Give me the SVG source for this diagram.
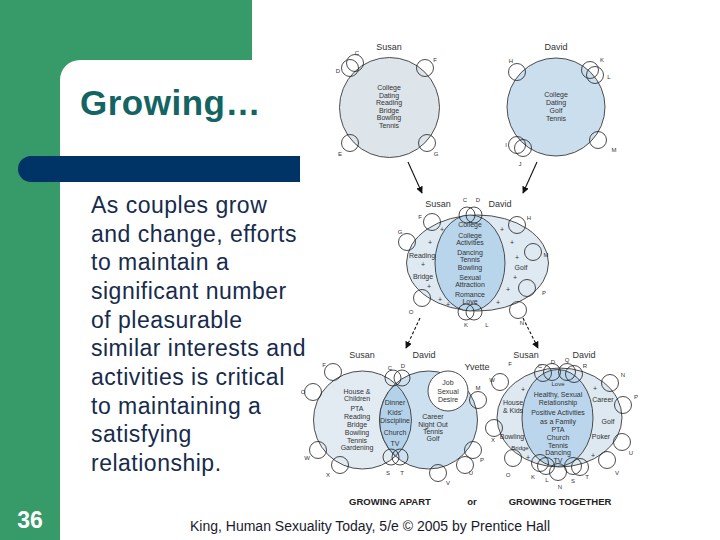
<svg xmlns="http://www.w3.org/2000/svg" width="720" height="540" viewBox="0 0 720 540">
<defs>
<style>
.big{stroke:#3a3a3a;stroke-width:0.9}
.sm{fill:none;stroke:#1e1e1e;stroke-width:0.8}
.t{font-family:"Liberation Sans",Arial,sans-serif;font-size:7px;fill:#333;text-anchor:middle}
.l{font-family:"Liberation Sans",Arial,sans-serif;font-size:6px;fill:#333;text-anchor:middle}
.n{font-family:"Liberation Sans",Arial,sans-serif;font-size:9px;fill:#333;text-anchor:middle}
.cap{font-family:"Liberation Sans",Arial,sans-serif;font-size:9.5px;font-weight:bold;fill:#222;text-anchor:middle}
.body{font-family:"Liberation Sans",Arial,sans-serif;font-size:23px;letter-spacing:0.5px;fill:#172b4d}
.arr{stroke:#111;stroke-width:1.1;fill:none}
</style>
<marker id="ah" viewBox="0 0 10 10" refX="9" refY="5" markerWidth="7" markerHeight="7" orient="auto" markerUnits="userSpaceOnUse">
<path d="M0,0 L10,5 L0,10 z" fill="#111"/>
</marker>
</defs>
<rect width="720" height="540" fill="#fff"/>
<g id="frame">
<path d="M0,0 H252 V60 H80 A20,20 0 0 0 60,80 V540 H0 Z" fill="#379a69"/>
<path d="M31,156 H300 V182 H31 A13,13 0 0 1 31,156 Z" fill="#003366"/>
<text x="80" y="115" font-family="Liberation Sans,Arial,sans-serif" font-size="35" font-weight="bold" letter-spacing="0.5" fill="#146464">Growing…</text>
<text x="30" y="528" font-family="Liberation Sans,Arial,sans-serif" font-size="23" font-weight="bold" fill="#fff" text-anchor="middle">36</text>
</g>
<g id="body-text">
<text class="body" x="91" y="213">As couples grow</text>
<text class="body" x="91" y="242">and change, efforts</text>
<text class="body" x="91" y="270">to maintain a</text>
<text class="body" x="91" y="299">significant number</text>
<text class="body" x="91" y="328">of pleasurable</text>
<text class="body" x="91" y="356">similar interests and</text>
<text class="body" x="91" y="385">activities is critical</text>
<text class="body" x="91" y="414">to maintaining a</text>
<text class="body" x="91" y="442">satisfying</text>
<text class="body" x="91" y="471">relationship.</text>
</g>
<g id="footer">
<text x="370" y="531" font-family="Liberation Sans,Arial,sans-serif" font-size="14" fill="#1a1a2e" text-anchor="middle">King, Human Sexuality Today, 5/e © 2005 by Prentice Hall</text>
</g>

<g id="susan-top">
<circle class="big" cx="389.5" cy="107.5" r="50" fill="#dde4ea"/>
<circle class="sm" cx="355" cy="63" r="8.5"/><circle class="sm" cx="350" cy="68" r="8.5"/>
<circle class="sm" cx="425" cy="68" r="8.5"/>
<circle class="sm" cx="350" cy="143" r="8.5"/>
<circle class="sm" cx="427" cy="143" r="8.5"/>
<text class="n" x="389" y="50">Susan</text>
<text class="l" x="357" y="55">C</text><text class="l" x="338" y="73">D</text>
<text class="l" x="435" y="62">F</text><text class="l" x="340" y="156">E</text><text class="l" x="436" y="156">G</text>
<text class="t" x="389" y="90">College</text>
<text class="t" x="389" y="98">Dating</text>
<text class="t" x="389" y="105">Reading</text>
<text class="t" x="389" y="113">Bridge</text>
<text class="t" x="389" y="120">Bowling</text>
<text class="t" x="389" y="128">Tennis</text>
</g>

<g id="david-top">
<circle class="big" cx="556" cy="107" r="49" fill="#cbdeee"/>
<circle class="sm" cx="517" cy="72" r="8.5"/>
<circle class="sm" cx="590" cy="70" r="8.5"/><circle class="sm" cx="595" cy="75" r="8.5"/>
<circle class="sm" cx="598" cy="140" r="8.5"/>
<circle class="sm" cx="517" cy="145" r="8.5"/><circle class="sm" cx="523" cy="148" r="8.5"/>
<text class="n" x="556" y="50">David</text>
<text class="l" x="511" y="63">H</text><text class="l" x="602" y="62">K</text><text class="l" x="609" y="79">L</text>
<text class="l" x="614" y="152">M</text><text class="l" x="506" y="147">I</text><text class="l" x="520" y="166">J</text>
<text class="t" x="556" y="97">College</text>
<text class="t" x="556" y="105">Dating</text>
<text class="t" x="556" y="113">Golf</text>
<text class="t" x="556" y="121">Tennis</text>
</g>

<g id="merged-middle">
<ellipse class="big" cx="477.5" cy="263" rx="71" ry="48" fill="#dfe9f2"/>
<ellipse class="big" cx="470" cy="263" rx="35" ry="48" fill="#b9d5eb"/>
<circle class="sm" cx="467" cy="215" r="8"/><circle class="sm" cx="474" cy="215" r="8"/>
<circle class="sm" cx="432" cy="222" r="8.5"/>
<circle class="sm" cx="407" cy="242" r="8.5"/>
<circle class="sm" cx="517" cy="225" r="8.5"/>
<circle class="sm" cx="533" cy="252" r="8.5"/>
<circle class="sm" cx="527" cy="288" r="8.5"/>
<circle class="sm" cx="518" cy="310" r="8.5"/>
<circle class="sm" cx="422" cy="298" r="8.5"/>
<circle class="sm" cx="466" cy="312" r="8"/><circle class="sm" cx="474" cy="312" r="8"/>
<text class="n" x="438" y="207">Susan</text><text class="n" x="500" y="207">David</text>
<text class="l" x="465" y="202">C</text><text class="l" x="478" y="202">D</text>
<text class="l" x="420" y="219">F</text><text class="l" x="400" y="234">G</text>
<text class="l" x="529" y="220">H</text><text class="l" x="546" y="257">M</text>
<text class="l" x="544" y="295">P</text><text class="l" x="522" y="325">N</text>
<text class="l" x="411" y="314">O</text><text class="l" x="466" y="327">K</text><text class="l" x="487" y="327">L</text>
<text class="t" x="470" y="227">College</text>
<text class="t" x="470" y="238">College</text>
<text class="t" x="470" y="245">Activities</text>
<text class="t" x="470" y="255">Dancing</text>
<text class="t" x="470" y="262">Tennis</text>
<text class="t" x="470" y="270">Bowling</text>
<text class="t" x="470" y="280">Sexual</text>
<text class="t" x="470" y="287">Attraction</text>
<text class="t" x="470" y="297">Romance</text>
<text class="t" x="470" y="304">Love</text>
<text class="t" x="422" y="258">Reading</text>
<text class="t" x="423" y="279">Bridge</text>
<text class="t" x="521" y="270">Golf</text>
<text class="t" x="442" y="232">+</text><text class="t" x="430" y="245">+</text><text class="t" x="423" y="267">+</text>
<text class="t" x="429" y="289">+</text><text class="t" x="440" y="302">+</text><text class="t" x="448" y="307">+</text>
<text class="t" x="502" y="232">+</text><text class="t" x="512" y="245">+</text><text class="t" x="517" y="260">+</text>
<text class="t" x="515" y="280">+</text><text class="t" x="508" y="292">+</text><text class="t" x="498" y="305">+</text>
</g>

<g id="growing-apart">
<circle class="big" cx="362.5" cy="420" r="49" fill="#e2eaf2"/>
<circle class="big" cx="428.5" cy="420" r="49" fill="#cde0ef"/>
<path class="big" d="M395.5,383.8 A49,49 0 0 0 395.5,456.2 A49,49 0 0 0 395.5,383.8 Z" fill="#b3d2ea"/>
<circle class="big" cx="448" cy="391" r="20" fill="#fff"/>
<circle class="sm" cx="393" cy="378" r="8"/><circle class="sm" cx="402" cy="378" r="8"/>
<circle class="sm" cx="333" cy="372" r="8.5"/>
<circle class="sm" cx="313" cy="392" r="8.5"/>
<circle class="sm" cx="318" cy="450" r="8.5"/>
<circle class="sm" cx="340" cy="465" r="8.5"/>
<circle class="sm" cx="391" cy="457" r="8"/><circle class="sm" cx="400" cy="457" r="8"/>
<circle class="sm" cx="478" cy="400" r="8.5"/>
<circle class="sm" cx="473" cy="450" r="8.5"/>
<circle class="sm" cx="465" cy="465" r="8.5"/>
<circle class="sm" cx="438" cy="473" r="8.5"/>
<text class="n" x="362" y="358">Susan</text><text class="n" x="424" y="358">David</text><text class="n" x="477" y="370">Yvette</text>
<text class="l" x="390" y="370">C</text><text class="l" x="403" y="368">D</text>
<text class="l" x="324" y="367">F</text><text class="l" x="303" y="394">O</text>
<text class="l" x="307" y="460">W</text><text class="l" x="328" y="477">X</text>
<text class="l" x="388" y="475">S</text><text class="l" x="402" y="475">T</text>
<text class="l" x="478" y="390">M</text><text class="l" x="482" y="462">P</text>
<text class="l" x="471" y="475">U</text><text class="l" x="448" y="485">V</text>
<text class="t" x="357" y="394">House &amp;</text>
<text class="t" x="357" y="401">Children</text>
<text class="t" x="357" y="411">PTA</text>
<text class="t" x="357" y="419">Reading</text>
<text class="t" x="357" y="427">Bridge</text>
<text class="t" x="357" y="435">Bowling</text>
<text class="t" x="357" y="443">Tennis</text>
<text class="t" x="357" y="450">Gardening</text>
<text class="t" x="395" y="405">Dinner</text>
<text class="t" x="395" y="415">Kids'</text>
<text class="t" x="395" y="423">Discipline</text>
<text class="t" x="395" y="435">Church</text>
<text class="t" x="395" y="446">TV</text>
<text class="t" x="433" y="419">Career</text>
<text class="t" x="433" y="427">Night Out</text>
<text class="t" x="433" y="434">Tennis</text>
<text class="t" x="433" y="441">Golf</text>
<text class="t" x="448" y="385">Job</text>
<text class="t" x="448" y="394">Sexual</text>
<text class="t" x="448" y="402">Desire</text>
<text class="cap" x="390" y="505">GROWING APART</text>
<text class="cap" x="472" y="505">or</text>
</g>

<g id="growing-together">
<ellipse class="big" cx="559.5" cy="417.5" rx="62.5" ry="49.5" fill="#dde8f1"/>
<ellipse class="big" cx="557.5" cy="418" rx="35.5" ry="48.5" fill="#bbd6ec"/>
<circle class="sm" cx="543" cy="373" r="8.5"/><circle class="sm" cx="552" cy="372" r="8.5"/>
<circle class="sm" cx="567" cy="372" r="8.5"/><circle class="sm" cx="574" cy="374" r="8.5"/>
<circle class="sm" cx="500" cy="382" r="8.5"/>
<circle class="sm" cx="610" cy="383" r="8.5"/>
<circle class="sm" cx="623" cy="405" r="8.5"/>
<circle class="sm" cx="494" cy="428" r="8.5"/>
<circle class="sm" cx="622" cy="442" r="8.5"/>
<circle class="sm" cx="607" cy="460" r="8.5"/>
<circle class="sm" cx="513" cy="458" r="8.5"/>
<circle class="sm" cx="540" cy="463" r="8.5"/><circle class="sm" cx="546" cy="466" r="8.5"/>
<circle class="sm" cx="558" cy="472" r="8.5"/>
<circle class="sm" cx="573" cy="466" r="8.5"/><circle class="sm" cx="580" cy="467" r="8.5"/>
<text class="n" x="526" y="358">Susan</text><text class="n" x="584" y="358">David</text>
<text class="l" x="510" y="366">F</text><text class="l" x="540" y="368">C</text><text class="l" x="553" y="364">D</text>
<text class="l" x="567" y="362">Q</text><text class="l" x="585" y="368">R</text>
<text class="l" x="492" y="382">W</text><text class="l" x="623" y="377">N</text><text class="l" x="636" y="399">P</text>
<text class="l" x="493" y="442">X</text><text class="l" x="631" y="455">U</text><text class="l" x="617" y="475">V</text>
<text class="l" x="587" y="479">T</text><text class="l" x="573" y="483">S</text><text class="l" x="560" y="489">N</text>
<text class="l" x="547" y="482">L</text><text class="l" x="533" y="479">K</text><text class="l" x="508" y="477">O</text>
<text class="l" x="558" y="386">Love</text>
<text class="t" x="558" y="397">Healthy, Sexual</text>
<text class="t" x="558" y="405">Relationship</text>
<text class="t" x="558" y="415">Positive Activities</text>
<text class="t" x="558" y="424">as a Family</text>
<text class="t" x="558" y="432">PTA</text>
<text class="t" x="558" y="440">Church</text>
<text class="t" x="558" y="448">Tennis</text>
<text class="t" x="558" y="455">Dancing</text>
<text class="t" x="558" y="463">TV</text>
<text class="t" x="513" y="405">House</text>
<text class="t" x="513" y="413">&amp; Kids</text>
<text class="t" x="512" y="439">Bowling</text>
<text class="l" x="520" y="450">Bridge</text>
<text class="t" x="603" y="402">Career</text>
<text class="t" x="608" y="424">Golf</text>
<text class="t" x="601" y="439">Poker</text>
<text class="t" x="523" y="392">+</text><text class="t" x="595" y="391">+</text>
<text class="t" x="528" y="460">+</text><text class="t" x="593" y="458">+</text>
<text class="cap" x="560" y="505">GROWING TOGETHER</text>
</g>

<g id="connectors">
<line class="arr" x1="408" y1="162" x2="422" y2="193" marker-end="url(#ah)"/>
<line class="arr" x1="537" y1="162" x2="523" y2="193" marker-end="url(#ah)"/>
<line class="arr" x1="420" y1="318" x2="406" y2="348" stroke-dasharray="3,2" marker-end="url(#ah)"/>
<line class="arr" x1="523" y1="318" x2="538" y2="348" stroke-dasharray="3,2" marker-end="url(#ah)"/>
</g>
</svg>
